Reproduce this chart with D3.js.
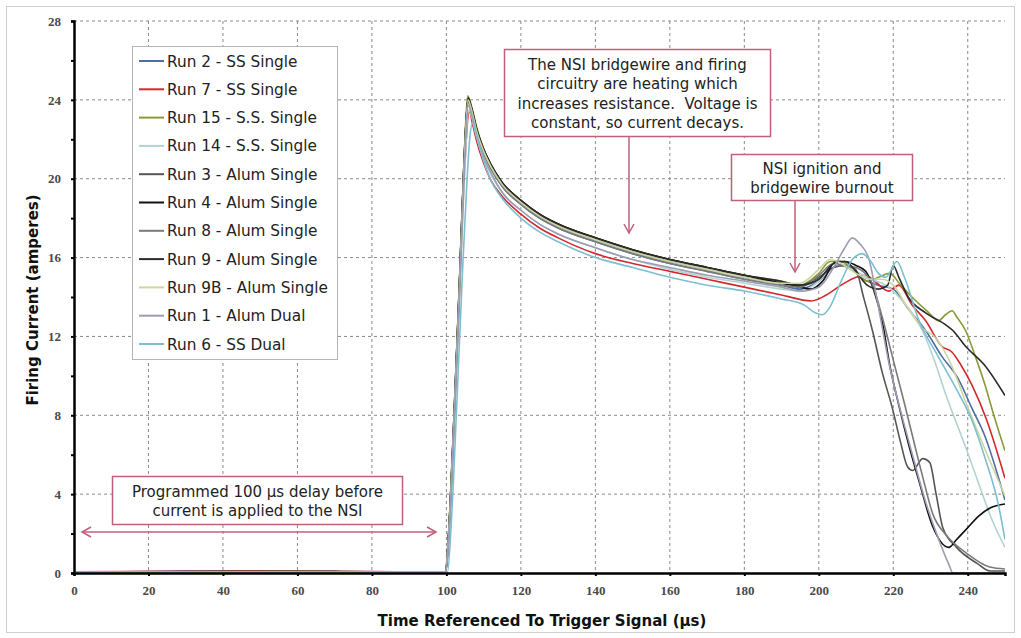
<!DOCTYPE html>
<html>
<head>
<meta charset="utf-8">
<script src="https://cdn.jsdelivr.net/npm/d3@7"></script>
<style>
  body { margin: 0; background: #fff; }
  svg { display: block; }
</style>
</head>
<body>
<svg id="chart"></svg>
<script>

// series names and colours, legend order
const seriesNames = ['Run 2 - SS Single', 'Run 7 - SS Single', 'Run 15 - S.S. Single', 'Run 14 - S.S. Single',
  'Run 3 - Alum Single', 'Run 4 - Alum Single', 'Run 8 - Alum Single', 'Run 9 - Alum Single',
  'Run 9B - Alum Single', 'Run 1 - Alum Dual', 'Run 6 - SS Dual']
const seriesColors = ['#4f6ea3', '#d4282c', '#8a9a36', '#b3d3d0', '#555555', '#111111', '#7a7a7a',
  '#2c2c2c', '#cbd6a2', '#9c9cb4', '#7cbfd0']

// tick values
const xTicks = [0, 20, 40, 60, 80, 100, 120, 140, 160, 180, 200, 220, 240]
const yTicks = [0, 4, 8, 12, 16, 20, 24, 28]
const yMinorTicks = [2, 6, 10, 14, 18, 22, 26]

// [time µs, current A]
const run2 = [[0,0.05],[40,0.08],[99.8,0.05],[100.6,1.6],[102,7.4],[103.5,14.3],[104.7,20.3],[105.8,23.9],[107,23.2],[108,22.4],[110,21.3],[112,20.5],[115,19.6],[120,18.7],[125,18.0],[130,17.5],[140,16.8],[150,16.2],[160,15.7],[170,15.3],[180,14.9],[190,14.6],[195,14.4],[200,14.8],[205,15.6],[208,15.5],[212,14.9],[216,14.6],[220,14.4],[224,13.4],[228.7,12.3],[233,11.0],[237.6,9.8],[241,8.4],[244.7,6.9],[248,5.0],[250,3.7]]
const run7 = [[0,0.06],[50,0.1],[99.8,0.05],[100.5,1.4],[102,7.2],[103.5,14.0],[104.7,19.8],[106.2,23.4],[107,22.8],[108,22.0],[110,20.8],[112,19.9],[115,19.1],[120,18.2],[125,17.5],[130,17.0],[140,16.2],[150,15.7],[160,15.3],[170,14.9],[180,14.5],[190,14.1],[198,13.8],[202,14.1],[206,14.6],[210,15.0],[212.6,15.1],[215,14.8],[218.8,14.3],[221.5,14.6],[225,13.6],[228.7,12.8],[233,11.5],[235.8,11.2],[238,10.6],[241.2,9.5],[245,7.8],[250,4.8]]
const run15 = [[0,0.05],[60,0.07],[99.8,0.05],[100.5,1.8],[102,7.8],[103.5,14.8],[104.7,20.8],[105.7,24.2],[107,23.5],[108,22.7],[110,21.5],[112,20.7],[115,19.8],[120,18.9],[125,18.2],[130,17.7],[140,17.0],[150,16.4],[160,15.9],[170,15.5],[180,15.1],[190,14.8],[195,14.6],[200,15.2],[203,15.8],[206,15.8],[209,15.4],[213,14.8],[216,15.0],[219,15.2],[222,14.6],[225,14.0],[229,13.3],[232.2,12.8],[234,13.1],[235.8,13.3],[237,13.0],[239.4,12.3],[242,11.0],[244.7,9.5],[247,8.0],[250,6.2]]
const run14 = [[0,0.05],[99.8,0.05],[100.6,1.4],[102,7.0],[103.5,13.8],[104.8,19.8],[106,23.5],[107,23.0],[108,22.2],[110,21.0],[112,20.2],[115,19.3],[120,18.4],[125,17.7],[130,17.2],[140,16.5],[150,15.9],[160,15.4],[170,15.0],[180,14.7],[190,14.4],[195,14.3],[200,14.8],[203,15.4],[206,15.6],[210,15.3],[214,14.9],[218,14.6],[222,13.9],[225,13.2],[227.8,12.3],[231,10.8],[234,9.1],[239.4,6.4],[243,4.5],[246.5,2.7],[250,1.3]]
const run3 = [[0,0.04],[30,0.08],[99.8,0.05],[100.5,1.6],[102,7.6],[103.5,14.6],[104.7,20.6],[105.8,24.0],[107,23.3],[108,22.5],[110,21.4],[112,20.6],[115,19.7],[120,18.8],[125,18.1],[130,17.6],[140,16.9],[150,16.3],[160,15.8],[170,15.4],[180,15.0],[190,14.7],[195,14.6],[200,15.0],[204,15.5],[207,15.6],[209.9,15.4],[212,14.0],[214.4,12.3],[217,10.2],[219.7,8.4],[222,6.6],[223.8,5.4],[225.2,5.2],[227.9,5.8],[229.8,5.6],[231.5,4.0],[233.3,2.3],[237,1.3],[242.4,0.5],[246,0.1],[250,0.1]]
const run4 = [[0,0.05],[70,0.08],[99.8,0.05],[100.5,1.7],[102,7.7],[103.5,14.7],[104.7,20.7],[105.8,24.1],[107,23.4],[108,22.6],[110,21.5],[112,20.7],[115,19.8],[120,18.9],[125,18.2],[130,17.7],[140,17.0],[150,16.4],[160,15.9],[170,15.5],[180,15.1],[190,14.7],[195,14.5],[198,14.4],[201,14.8],[204.6,15.8],[207,15.8],[210,15.6],[212.6,15.3],[215,14.2],[217,12.8],[219,10.6],[221.5,8.5],[224,6.6],[227,4.6],[230.5,2.4],[234.9,1.3],[237,1.7],[240,2.3],[243,2.9],[246,3.3],[250,3.5]]
const run8 = [[0,0.05],[99.8,0.05],[100.5,1.5],[102,7.5],[103.5,14.4],[104.7,20.4],[105.8,23.9],[107,23.2],[108,22.4],[110,21.3],[112,20.5],[115,19.6],[120,18.7],[125,18.0],[130,17.5],[140,16.8],[150,16.2],[160,15.7],[170,15.3],[180,14.9],[190,14.6],[195,14.5],[200,15.1],[204,15.7],[207,15.6],[210,15.5],[214,14.8],[217,13.0],[220,10.8],[223,8.6],[226,6.3],[228,4.8],[230.6,3.0],[234.3,1.9],[239.7,1.0],[245.9,0.3],[250,0.2]]
const run9 = [[0,0.06],[99.8,0.05],[100.5,1.7],[102,7.8],[103.5,14.7],[104.7,20.7],[105.8,24.0],[107,23.4],[108,22.6],[110,21.5],[112,20.7],[115,19.8],[120,18.9],[125,18.2],[130,17.7],[140,17.0],[150,16.4],[160,15.9],[170,15.5],[180,15.1],[190,14.8],[195,14.6],[200,14.9],[204,15.7],[207,15.8],[210,15.3],[213,14.6],[216,14.4],[218.5,14.6],[220,15.6],[221.5,15.0],[224,14.0],[228.7,13.2],[234,12.6],[236,12.3],[239.4,11.5],[244.7,10.5],[250,9.0]]
const run9B = [[0,0.05],[99.8,0.05],[100.5,1.6],[102,7.6],[103.5,14.5],[104.7,20.5],[105.8,24.0],[107,23.3],[108,22.5],[110,21.4],[112,20.6],[115,19.7],[120,18.8],[125,18.1],[130,17.6],[140,16.9],[150,16.3],[160,15.8],[170,15.4],[180,15.0],[190,14.7],[195,14.7],[200,15.4],[203,15.9],[206,15.7],[210,15.2],[214,14.9],[217,14.9],[220,14.6],[224,13.4],[228,12.4],[231,12.0],[235,10.8],[240,8.4],[245,6.1],[250,3.9]]
const run1 = [[0,0.05],[99.8,0.05],[100.5,1.5],[102,7.3],[103.5,14.2],[104.7,20.1],[105.9,23.7],[107,23.1],[108,22.3],[110,21.1],[112,20.3],[115,19.3],[120,18.4],[125,17.7],[130,17.2],[140,16.5],[150,15.9],[160,15.5],[170,15.1],[180,14.8],[190,14.5],[195,14.3],[200,14.5],[204,15.5],[207,16.5],[209,17.0],[211,16.7],[213.5,15.9],[216,13.5],[219,10.5],[222,8.2],[225,6.1],[228.7,3.6],[232.2,1.7],[235,0.4],[236,0.0],[250,0.0]]
const run6 = [[0,0.05],[100.3,0.05],[101.3,2.5],[102.8,8.6],[104.3,15.2],[105.5,19.8],[106.3,22.1],[107,22.8],[108,22.2],[110,20.9],[112,19.9],[115,19.0],[120,18.0],[125,17.3],[130,16.8],[140,16.0],[150,15.5],[160,15.0],[170,14.6],[180,14.3],[190,13.9],[196,13.6],[199,13.2],[201,13.1],[203,13.5],[206,14.8],[209,15.9],[211.7,16.2],[214,15.8],[216,15.2],[218,15.0],[221,15.8],[223,15.0],[226.9,12.8],[232,11.0],[237.6,9.1],[241,7.8],[244.7,5.8],[248.3,3.4],[250,1.7]]

const seriesData = [run2, run7, run15, run14, run3, run4, run8, run9, run9B, run1, run6]

// chart size
const W = 1021, H = 638
const margin = { top: 21, right: 16, bottom: 65, left: 74 }
const width = W - margin.left - margin.right
const height = H - margin.top - margin.bottom

const svg = d3.select('#chart')
  .attr('width', W)
  .attr('height', H)

// outer frame
svg.append('rect')
  .attr('x', 6.5).attr('y', 6.5)
  .attr('width', W - 13).attr('height', H - 12)
  .attr('fill', '#fff')
  .attr('stroke', '#d0d0d0')

const g = svg.append('g')
  .attr('transform', `translate(${margin.left},${margin.top})`)

// scales
const x = d3.scaleLinear().domain([0, 250]).range([0, width])
const y = d3.scaleLinear().domain([0, 28]).range([height, 0])

// dotted grid
g.append('g')
  .selectAll('line')
  .data(xTicks.filter(d => d > 0))
  .join('line')
  .attr('x1', d => x(d)).attr('x2', d => x(d))
  .attr('y1', 0).attr('y2', height)
  .attr('stroke', '#8a8a8a')
  .attr('stroke-width', 1)
  .attr('stroke-dasharray', '3,3')

g.append('g')
  .selectAll('line')
  .data(yTicks.filter(d => d > 0))
  .join('line')
  .attr('x1', 0).attr('x2', width)
  .attr('y1', d => y(d)).attr('y2', d => y(d))
  .attr('stroke', '#8a8a8a')
  .attr('stroke-width', 1)
  .attr('stroke-dasharray', '3,3')

// clip traces to plot area
svg.append('defs').append('clipPath')
  .attr('id', 'plotClip')
  .append('rect')
  .attr('x', 0).attr('y', -2)
  .attr('width', width).attr('height', height + 2)

const line = d3.line()
  .x(d => x(d[0]))
  .y(d => y(d[1]))
  .curve(d3.curveMonotoneX)

const traces = g.append('g').attr('clip-path', 'url(#plotClip)')
seriesData.forEach((data, i) => {
  traces.append('path')
    .datum(data)
    .attr('fill', 'none')
    .attr('stroke', seriesColors[i])
    .attr('stroke-width', 1.6)
    .attr('stroke-linejoin', 'round')
    .attr('d', line)
})

// axes
const xAxis = d3.axisBottom(x).tickValues(xTicks).tickSize(3).tickPadding(10)
const yAxis = d3.axisLeft(y).tickValues(yTicks).tickSize(3).tickPadding(10)
const yMinor = d3.axisLeft(y).tickValues(yMinorTicks).tickSize(3).tickFormat('')

const xAxisGroup = g.append('g')
  .attr('transform', `translate(0,${height})`)
  .call(xAxis)
const yAxisGroup = g.append('g').call(yAxis)
const yMinorGroup = g.append('g').call(yMinor)

;[xAxisGroup, yAxisGroup, yMinorGroup].forEach(a => {
  a.select('.domain').attr('stroke', '#000').attr('stroke-width', 2.5)
  a.selectAll('.tick line').attr('stroke', '#000').attr('stroke-width', 2)
  a.selectAll('.tick text')
    .attr('fill', '#4a4a4a')
    .style('font-family', '"Liberation Serif", "DejaVu Serif", serif')
    .style('font-weight', 'bold')
    .style('font-size', '13px')
})
yMinorGroup.select('.domain').remove()

// axis titles
svg.append('text')
  .attr('x', 542).attr('y', 626)
  .attr('text-anchor', 'middle')
  .style('font-family', '"DejaVu Sans", Verdana, sans-serif')
  .style('font-weight', 'bold')
  .style('font-size', '15px')
  .attr('fill', '#111')
  .text('Time Referenced To Trigger Signal (µs)')

svg.append('text')
  .attr('transform', 'translate(38,300) rotate(-90)')
  .attr('text-anchor', 'middle')
  .style('font-family', '"DejaVu Sans", Verdana, sans-serif')
  .style('font-weight', 'bold')
  .style('font-size', '15px')
  .attr('fill', '#111')
  .text('Firing Current (amperes)')

// legend
const legend = svg.append('g')
legend.append('rect')
  .attr('x', 132.5).attr('y', 46.5)
  .attr('width', 205).attr('height', 313)
  .attr('fill', '#fff')
  .attr('stroke', '#b5b5b5')

seriesNames.forEach((name, i) => {
  const ly = 61 + i * 28.3
  legend.append('line')
    .attr('x1', 139).attr('x2', 164)
    .attr('y1', ly).attr('y2', ly)
    .attr('stroke', seriesColors[i])
    .attr('stroke-width', 2)
  legend.append('text')
    .attr('x', 167).attr('y', ly + 5.5)
    .style('font-family', '"DejaVu Sans", Verdana, sans-serif')
    .style('font-size', '15.3px')
    .attr('fill', '#222')
    .text(name)
})

// annotations
const noteColor = '#c0607a'
const noteFont = '"DejaVu Sans", Verdana, sans-serif'

function noteBox(x0, y0, w, h, lines, lineY0, lineGap) {
  svg.append('rect')
    .attr('x', x0).attr('y', y0)
    .attr('width', w).attr('height', h)
    .attr('fill', '#fff')
    .attr('stroke', noteColor)
    .attr('stroke-width', 1.5)
  lines.forEach((t, i) => {
    svg.append('text')
      .attr('x', x0 + w / 2).attr('y', lineY0 + i * lineGap)
      .attr('text-anchor', 'middle')
      .style('font-family', noteFont)
      .style('font-size', '15px')
      .attr('fill', '#222')
      .style('white-space', 'pre')
      .text(t)
  })
}

function arrowHead(xt, yt, dir) {
  // open chevron, dir: 'down' | 'left' | 'right'
  let d
  if (dir === 'down') d = `M${xt - 5},${yt - 9}L${xt},${yt}L${xt + 5},${yt - 9}`
  if (dir === 'left') d = `M${xt + 9},${yt - 5}L${xt},${yt}L${xt + 9},${yt + 5}`
  if (dir === 'right') d = `M${xt - 9},${yt - 5}L${xt},${yt}L${xt - 9},${yt + 5}`
  svg.append('path')
    .attr('d', d)
    .attr('fill', 'none')
    .attr('stroke', noteColor)
    .attr('stroke-width', 1.5)
}

function arrowLine(x1, y1, x2, y2) {
  svg.append('line')
    .attr('x1', x1).attr('y1', y1)
    .attr('x2', x2).attr('y2', y2)
    .attr('stroke', noteColor)
    .attr('stroke-width', 1.5)
}

noteBox(504.5, 49.5, 266, 87,
  ['The NSI bridgewire and firing', 'circuitry are heating which', 'increases resistance.  Voltage is', 'constant, so current decays.'],
  70, 19.3)
arrowLine(629, 137, 629, 233)
arrowHead(629, 233, 'down')

noteBox(731.5, 154.5, 181, 46,
  ['NSI ignition and', 'bridgewire burnout'],
  174, 19)
arrowLine(795, 201, 795, 272)
arrowHead(795, 272, 'down')

noteBox(112.5, 476.5, 290, 48,
  ['Programmed 100 µs delay before', 'current is applied to the NSI'],
  497, 18.5)
arrowLine(82, 532, 436, 532)
arrowHead(82, 532, 'left')
arrowHead(436, 532, 'right')

</script>
</body>
</html>
